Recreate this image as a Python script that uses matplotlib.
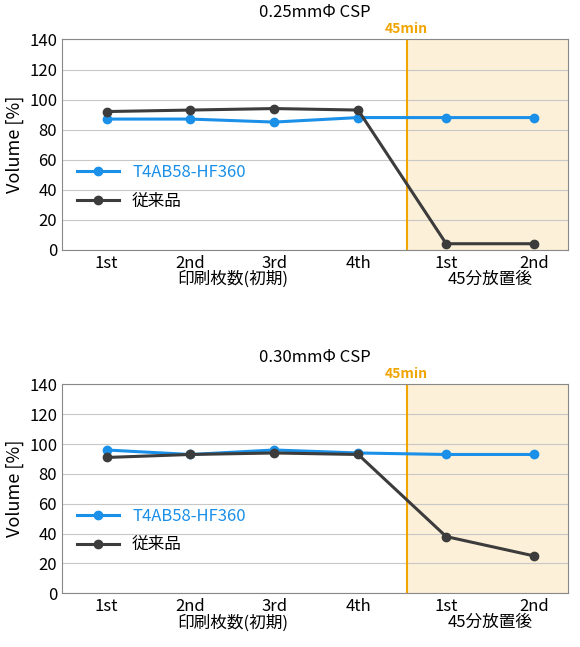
import matplotlib
matplotlib.use("Agg")
import matplotlib.pyplot as plt

plt.rcParams['font.family'] = ['Noto Sans CJK JP', 'DejaVu Sans']

ticks = ["1st", "2nd", "3rd", "4th", "1st", "2nd"]
groups = ["印刷枚数(初期)", "45分放置後"]
titles = ["0.25mmΦ CSP", "0.30mmΦ CSP"]
new_top = [87, 87, 85, 88, 88, 88]
old_top = [92, 93, 94, 93, 4, 4]
new_bot = [96, 93, 96, 94, 93, 93]
old_bot = [91, 93, 94, 93, 38, 25]
names = ["T4AB58-HF360", "従来品"]

blue = "#1a90e8"
dark = "#3c3c3c"
orange = "#f0a500"
x = [0, 1, 2, 3, 4.05, 5.1]

fig = plt.figure(figsize=(5.8, 6.47), dpi=100)
rects = [[0.107, 0.614, 0.872, 0.325], [0.107, 0.083, 0.872, 0.323]]
for rect, title, nv, ov in zip(rects, titles, [new_top, new_bot], [old_top, old_bot]):
    ax = fig.add_axes(rect)
    ax.set_xlim(-0.53, 5.5)
    ax.set_ylim(0, 140)
    ax.axvspan(3.58, 5.5, color="#fdf0d8", zorder=0)
    ax.axvline(3.58, color=orange, lw=1.5, zorder=1)
    ax.text(3.58, 142, "45min", color=orange, ha="center", va="bottom", fontsize=10, fontweight="bold")
    ax.set_yticks(range(0, 141, 20))
    ax.yaxis.grid(True, color="#c8c8c8", lw=0.8)
    ax.set_axisbelow(True)
    ax.plot(x, nv, color=blue, marker="o", ms=6, lw=2.2, label=names[0], zorder=3)
    ax.plot(x, ov, color=dark, marker="o", ms=6, lw=2.2, label=names[1], zorder=3)
    ax.set_xticks(x)
    ax.set_xticklabels(ticks, fontsize=12)
    ax.tick_params(length=0, labelsize=12)
    ax.set_ylabel("Volume [%]", fontsize=13)
    for s in ax.spines.values():
        s.set_color("#888888")
    ax.set_title(title, fontsize=12, pad=16)
    ax.text(1.5, -0.1, groups[0], transform=ax.get_xaxis_transform(), ha="center", va="top", fontsize=12)
    ax.text(4.575, -0.1, groups[1], transform=ax.get_xaxis_transform(), ha="center", va="top", fontsize=12)
    leg = ax.legend(loc="center left", bbox_to_anchor=(0.0, 0.3), frameon=False, fontsize=12,
                    handlelength=2.5, labelspacing=0.7)
    leg.get_texts()[0].set_color(blue)

fig.savefig("out.png", dpi=100)
